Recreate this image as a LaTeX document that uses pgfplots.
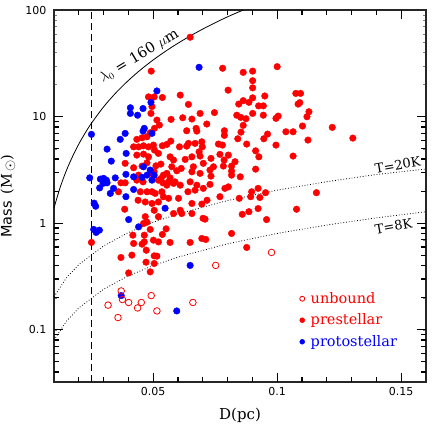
\documentclass[border=0pt]{standalone}
\usepackage{pgfplots}
\pgfplotsset{compat=1.18}
\usepackage{fontspec}
\setmainfont{DejaVu Serif}
\setsansfont{DejaVu Sans}
\begin{document}
\begin{tikzpicture}
\begin{axis}[
 scale only axis, width=372pt, height=372pt,
 xmin=0.01, xmax=0.16, ymode=log, ymin=0.0323, ymax=100,
 xtick={0.05,0.1,0.15}, xticklabels={0.05,0.1,0.15},
 ytick={0.1,1,10,100}, yticklabels={0.1,1,10,100},
 minor tick num=0,
 tick align=inside,
 major tick length=0pt,
 axis line style={black!85, line width=1.1pt},
 tick label style={font=\sffamily\fontsize{11}{11}\selectfont},
 yticklabel style={xshift=-4pt},
 xticklabel style={yshift=-2pt},
 xlabel={D(pc)}, ylabel={\textsf{Mass}\ \,(M\,\raisebox{-2.5pt}{$\odot$})},
 every axis x label/.style={at={(axis description cs:0.5,-0.0887)}, anchor=center, font=\fontsize{15}{15}\selectfont},
 every axis y label/.style={at={(axis description cs:-0.1237,0.5)}, anchor=center, rotate=90, font=\fontsize{14.5}{14.5}\selectfont},
 legend style={at={(axis description cs:0.652,0.252)}, anchor=north west, draw=none, fill=none, font=\fontsize{14.5}{15}\selectfont, row sep=5pt, /tikz/every odd column/.append style={column sep=4pt}},
 legend cell align=left,
 clip=false,
]
\coordinate (sw) at (rel axis cs:0,0);
\coordinate (ne) at (rel axis cs:1,1);
\addlegendimage{only marks, mark=o, red, mark size=2.5pt, mark options={line width=0.8pt}}
\addlegendentry{\textcolor{red}{unbound}}
\addlegendimage{only marks, mark=*, red, mark size=2.5pt}
\addlegendentry{\textcolor{red}{prestellar}}
\addlegendimage{only marks, mark=*, blue, mark size=2.5pt}
\addlegendentry{\textcolor{blue}{protostellar}}
% lambda_0 = 160 micron curve (stops at the top of the frame)
\addplot[black, line width=0.8pt, smooth, forget plot] coordinates {
(0.010,1.39)(0.0125,2.17)(0.015,3.12)(0.0175,4.23)(0.020,5.52)(0.0225,6.97)(0.025,8.59)
(0.030,12.34)(0.035,16.75)(0.040,21.83)(0.045,27.58)(0.050,33.99)(0.055,41.07)(0.060,48.81)
(0.065,57.2)(0.070,66.26)(0.075,75.97)(0.080,86.35)(0.0863,100)};
% T=20K and T=8K
\addplot[black, line width=0.8pt, dash pattern=on 0.8pt off 2pt, forget plot] coordinates {
(0.010,0.204)(0.015,0.306)(0.020,0.408)(0.030,0.612)(0.040,0.816)(0.050,1.02)(0.060,1.22)
(0.080,1.63)(0.100,2.04)(0.120,2.45)(0.140,2.86)(0.160,3.22)};
\addplot[black, line width=0.8pt, dash pattern=on 0.8pt off 2pt, forget plot] coordinates {
(0.010,0.08)(0.015,0.12)(0.020,0.16)(0.030,0.24)(0.040,0.32)(0.050,0.40)(0.060,0.48)
(0.080,0.64)(0.100,0.80)(0.120,0.96)(0.140,1.12)(0.160,1.28)};
% dashed vertical
\addplot[black, line width=0.8pt, dash pattern=on 7pt off 4pt, forget plot] coordinates {(0.025,0.0323)(0.025,100)};
% prestellar
\addplot[only marks, mark=*, mark size=3.3pt, red, forget plot] coordinates {
(0.0649,55.5)(0.0492,26.7)(0.0481,15.3)(0.0504,15.3)(0.0537,15.1)(0.0609,15.9)(0.0495,12.4)
(0.0642,13.0)(0.0491,10.7)(0.0572,9.41)(0.0619,9.75)(0.0656,9.48)(0.0689,10.7)(0.0747,10.9)
(0.0515,9.27)(0.0505,7.75)(0.0525,8.32)(0.0475,6.46)(0.0488,7.05)(0.0635,7.36)(0.0673,7.75)
(0.0676,7.31)(0.0716,8.51)(0.0434,6.11)(0.0455,6.32)(0.0461,5.32)(0.0481,5.20)(0.0501,5.40)
(0.0421,5.20)(0.0441,5.20)(0.0537,5.32)(0.0555,5.48)(0.0571,5.89)(0.0606,5.20)(0.0635,5.28)
(0.0669,5.60)(0.0698,5.20)(0.0685,4.67)(0.0763,5.52)(0.0521,4.51)(0.0505,4.85)(0.0461,4.44)
(0.0481,4.19)(0.0568,4.19)(0.0582,3.91)(0.0656,4.19)(0.0689,4.26)(0.0702,3.64)(0.0387,3.64)
(0.0421,3.31)(0.0455,3.43)(0.0475,3.68)(0.0511,3.45)(0.0531,3.58)(0.0504,3.03)(0.0575,3.38)
(0.0595,3.10)(0.0613,3.26)(0.0662,3.38)(0.0689,2.93)(0.0729,3.15)(0.0743,3.38)(0.0555,2.93)
(0.0568,2.66)(0.0532,2.63)(0.0539,2.39)(0.0521,2.53)(0.0492,2.93)(0.0441,2.82)(0.0434,2.53)
(0.0370,2.39)(0.0387,2.39)(0.0360,1.97)(0.0475,1.97)(0.0508,1.90)(0.0535,1.97)(0.0582,2.36)
(0.0609,2.27)(0.0459,2.44)(0.0555,2.27)(0.0676,2.27)(0.0702,2.12)(0.0640,1.97)(0.0729,2.31)
(0.0448,1.97)(0.0439,1.64)(0.0468,1.58)(0.0495,1.53)(0.0521,1.58)(0.0562,1.71)(0.0602,1.71)
(0.0656,1.53)(0.0696,1.51)(0.0717,1.64)(0.0385,1.35)(0.0504,1.32)(0.0582,1.23)(0.0615,1.23)
(0.0656,1.23)(0.0468,1.15)(0.0521,1.15)(0.0461,0.993)(0.0475,1.02)(0.0488,0.873)(0.0552,0.884)
(0.0537,0.783)(0.0418,0.771)(0.0421,0.645)(0.0464,0.771)(0.0455,0.635)(0.0464,0.667)(0.0501,0.692)
(0.0521,0.667)(0.0568,0.659)(0.0649,0.659)(0.0696,0.718)(0.0712,0.703)(0.0472,0.557)(0.0414,0.501)
(0.0370,0.476)(0.0504,0.493)(0.0515,0.490)(0.0471,0.430)(0.0504,0.418)(0.0401,0.341)(0.0488,0.349)
(0.0251,0.659)(0.0816,0.800)(0.0877,0.591)(0.0701,1.11)(0.0709,1.09)(0.0733,2.76)(0.0816,3.08)
(0.0816,2.82)(0.0851,2.72)(0.0769,1.77)(0.0803,2.19)(0.0847,1.71)(0.0897,1.97)(0.0893,1.77)
(0.0923,2.12)(0.0930,1.74)(0.0953,1.93)(0.0859,1.21)(0.0886,1.28)(0.0923,1.37)(0.0957,1.08)
(0.1078,1.35)(0.1158,1.93)(0.0913,3.21)(0.0780,28.4)(0.0863,26.0)(0.0901,26.7)(0.1000,29.4)
(0.0901,21.7)(0.0901,18.6)(0.0802,17.7)(0.0950,15.6)(0.1075,16.5)(0.1094,16.5)(0.0845,13.1)
(0.0863,14.1)(0.0886,13.6)(0.0901,15.0)(0.0925,12.6)(0.0944,12.6)(0.1084,13.1)(0.1091,13.5)
(0.1128,11.1)(0.1120,9.96)(0.0837,10.3)(0.0853,9.83)(0.0874,9.54)(0.0901,10.7)(0.0944,10.3)
(0.0995,9.62)(0.1004,10.1)(0.0863,8.27)(0.0787,7.36)(0.0787,6.66)(0.0854,7.15)(0.0841,6.19)
(0.0877,5.52)(0.0946,6.19)(0.0961,6.85)(0.1035,7.20)(0.1064,7.20)(0.1102,8.15)(0.1222,7.92)
(0.1305,6.28)(0.1124,6.02)(0.0995,5.40)(0.0696,5.80)(0.0779,5.40)(0.0769,4.42)(0.0733,4.05)
(0.0913,4.77)(0.0926,4.19)(0.1064,4.26)(0.0786,3.91)(0.0783,3.43)(0.0830,3.77)(0.0816,3.43)
(0.0434,4.35)(0.0642,5.60)(0.0629,3.96)(0.0656,3.03)(0.0803,4.35)(0.0541,2.82)(0.0562,2.44)
(0.0588,2.44)(0.0649,2.44)(0.0669,2.04)(0.0789,2.12)(0.0541,1.77)(0.0609,1.32)(0.0495,1.97)};
% protostellar
\addplot[only marks, mark=*, mark size=3.3pt, blue, forget plot] coordinates {
(0.0685,29.0)(0.0515,17.4)(0.0491,13.6)(0.0408,12.1)(0.0408,10.7)(0.0437,10.3)(0.0459,11.9)
(0.0464,7.75)(0.0459,7.31)(0.0495,6.95)(0.0251,6.81)(0.0387,6.95)(0.0367,6.11)(0.0314,4.95)
(0.0391,4.51)(0.0331,3.82)(0.0461,3.38)(0.0488,3.15)(0.0495,2.53)(0.0504,2.82)(0.0390,2.87)
(0.0421,2.72)(0.0455,2.69)(0.0475,2.82)(0.0244,2.66)(0.0287,2.59)(0.0300,2.63)(0.0311,2.53)
(0.0298,2.36)(0.0314,2.39)(0.0284,2.14)(0.0347,2.66)(0.0340,2.12)(0.0327,1.90)(0.0390,1.77)
(0.0421,2.07)(0.0262,1.54)(0.0268,1.44)(0.0548,1.38)(0.0401,1.08)(0.0441,0.923)(0.0260,0.873)
(0.0270,0.818)(0.0283,0.859)(0.0649,0.401)(0.0371,0.209)(0.0595,0.150)};
% unbound
\addplot[only marks, mark=o, mark size=3.3pt, red, mark options={line width=0.8pt}, forget plot] coordinates {
(0.0371,0.231)(0.0376,0.192)(0.0318,0.170)(0.0401,0.180)(0.0437,0.160)(0.0452,0.180)
(0.0492,0.209)(0.0515,0.150)(0.0358,0.130)(0.0660,0.180)(0.0752,0.401)(0.0977,0.531)};
\node[rotate=31, font=\fontsize{14.5}{14.5}\selectfont] at (axis cs:0.0444,37.0) {$\lambda_0$ = 160 $\mu$m};
\node[rotate=10, font=\fontsize{13}{13}\selectfont] at (axis cs:0.1486,3.5) {T=20K};
\node[rotate=10, font=\fontsize{13}{13}\selectfont] at (axis cs:0.1469,0.937) {T=8K};
\end{axis}
% tick marks on all four sides, drawn on the finished frame
\begin{scope}[black, line width=1.3pt]
\foreach \t in {1,2,3,5,6,7,8,10,11,12,13}{
 \draw ([xshift=\t*24.8pt]sw) -- ++(0,5.5pt);
 \draw ([xshift=\t*24.8pt]sw |- ne) -- ++(0,-5.5pt);}
\foreach \t in {4,9,14}{
 \draw ([xshift=\t*24.8pt]sw) -- ++(0,9pt);
 \draw ([xshift=\t*24.8pt]sw |- ne) -- ++(0,-9pt);}
\foreach \d in {0,1,2,3}{
 \foreach \m in {2,3,4,5,6,7,8,9}{
  \pgfmathsetmacro{\yy}{52.25+(\d-2+log10(\m))*106.5}
  \pgfmathparse{(\yy>0 && \yy<372)?1:0}
  \ifnum\pgfmathresult=1
   \draw ([yshift=\yy pt]sw) -- ++(5.5pt,0);
   \draw ([yshift=\yy pt]sw -| ne) -- ++(-5.5pt,0);
  \fi}}
\foreach \d in {1,2,3}{
 \pgfmathsetmacro{\yy}{52.25+(\d-1)*106.5}
 \draw ([yshift=\yy pt]sw) -- ++(9pt,0);
 \draw ([yshift=\yy pt]sw -| ne) -- ++(-9pt,0);}
\end{scope}
\pgfresetboundingbox
\path ([shift={(-54pt,-54pt)}]sw) rectangle ([shift={(10pt,10pt)}]ne);
\end{tikzpicture}
\end{document}
